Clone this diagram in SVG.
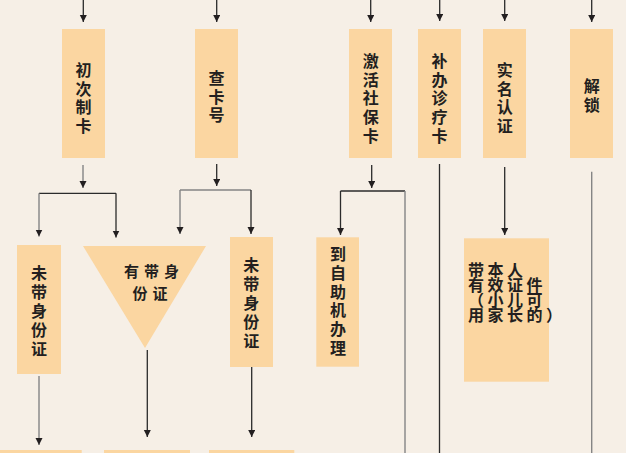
<svg xmlns="http://www.w3.org/2000/svg" width="626" height="453" viewBox="0 0 626 453">
<defs>
<marker id="ah" markerUnits="userSpaceOnUse" markerWidth="8" markerHeight="8" refX="7" refY="3.5" orient="auto">
<path d="M0,0 L7,3.5 L0,7 z" fill="#231f20"/>
</marker>
</defs>
<style>
.box{fill:#fbd6a1}
.t{font-family:"Noto Sans CJK SC","Noto Sans CJK JP",sans-serif;font-size:16px;font-weight:bold;fill:#231f20;text-anchor:middle}
.ts{font-family:"Noto Sans CJK SC","Noto Sans CJK JP",sans-serif;font-size:15px;font-weight:bold;fill:#231f20;letter-spacing:5px}
.tw{font-family:"Noto Sans CJK SC","Noto Sans CJK JP",sans-serif;font-size:16px;font-weight:bold;fill:#231f20;letter-spacing:3.5px}
.d{stroke:#2b2b2b;stroke-width:1.3;fill:none}
.g{stroke:#858585;stroke-width:1.4;fill:none}
.a{marker-end:url(#ah)}
</style>
<rect x="0" y="0" width="626" height="453" fill="#f6efe6"/>
<g id="connectors">
<path class="d a" d="M83.3,0 V22"/>
<path class="d a" d="M216.7,0 V22"/>
<path class="d a" d="M370.7,0 V22"/>
<path class="d a" d="M439.7,0 V21"/>
<path class="d a" d="M504.7,0 V21"/>
<path class="d a" d="M591.7,0 V22"/>
<path class="g a" d="M83,165 V188"/>
<path class="d" d="M39,193.3 H116"/>
<path class="g a" d="M39,193.3 V236.5"/>
<path class="d a" d="M116,193.3 V237.5"/>
<path class="d a" d="M216.7,164 V186"/>
<path class="g" d="M180,190 H251"/>
<path class="g a" d="M180,190 V234"/>
<path class="d a" d="M251,190 V234"/>
<path class="g a" d="M39,376 V445"/>
<path class="d a" d="M147.3,350 V437"/>
<path class="d a" d="M251.7,367 V437"/>
<path class="d a" d="M371.7,165 V188"/>
<path class="d" d="M340.5,191 H405"/>
<path class="d a" d="M340.5,191 V235"/>
<path class="g" d="M405,191 V453"/>
<path class="d" d="M439.5,164 V453"/>
<path class="d a" d="M504.7,167 V235"/>
<path class="g" d="M591.7,171.7 V453"/>
</g>
<g id="n-chuci">
<rect class="box" x="62" y="29" width="43" height="129"/>
<text class="t"><tspan x="83.5" y="76">初</tspan><tspan x="83.5" dy="18.5">次</tspan><tspan x="83.5" dy="18.5">制</tspan><tspan x="83.5" dy="18.5">卡</tspan></text>
</g>
<g id="n-chakahao">
<rect class="box" x="195" y="29" width="43" height="129"/>
<text class="t"><tspan x="216.5" y="84">查</tspan><tspan x="216.5" dy="18.5">卡</tspan><tspan x="216.5" dy="18.5">号</tspan></text>
</g>
<g id="n-jihuo">
<rect class="box" x="349" y="29" width="43" height="129"/>
<text class="t"><tspan x="370.7" y="67">激</tspan><tspan x="370.7" dy="18.7">活</tspan><tspan x="370.7" dy="18.7">社</tspan><tspan x="370.7" dy="18.7">保</tspan><tspan x="370.7" dy="18.7">卡</tspan></text>
</g>
<g id="n-buban">
<rect class="box" x="418" y="29" width="43" height="129"/>
<text class="t"><tspan x="439.5" y="67">补</tspan><tspan x="439.5" dy="18.7">办</tspan><tspan x="439.5" dy="18.7">诊</tspan><tspan x="439.5" dy="18.7">疗</tspan><tspan x="439.5" dy="18.7">卡</tspan></text>
</g>
<g id="n-shiming">
<rect class="box" x="483" y="29" width="43" height="129"/>
<text class="t"><tspan x="504.7" y="76">实</tspan><tspan x="504.7" dy="18.7">名</tspan><tspan x="504.7" dy="18.7">认</tspan><tspan x="504.7" dy="18.7">证</tspan></text>
</g>
<g id="n-jiesuo">
<rect class="box" x="570" y="29" width="43" height="129"/>
<text class="t"><tspan x="591.7" y="92">解</tspan><tspan x="591.7" dy="18.5">锁</tspan></text>
</g>
<g id="n-weidai1">
<rect class="box" x="17" y="245" width="44" height="129"/>
<text class="t"><tspan x="39" y="279">未</tspan><tspan x="39" dy="19">带</tspan><tspan x="39" dy="19">身</tspan><tspan x="39" dy="19">份</tspan><tspan x="39" dy="19">证</tspan></text>
</g>
<g id="n-youdai">
<polygon class="box" points="83,246 206,246 145,348"/>
<text class="ts"><tspan x="124" y="277">有带身</tspan><tspan x="132.5" y="299">份证</tspan></text>
</g>
<g id="n-weidai2">
<rect class="box" x="230" y="237" width="43" height="130"/>
<text class="t"><tspan x="251.3" y="271">未</tspan><tspan x="251.3" dy="18.9">带</tspan><tspan x="251.3" dy="18.9">身</tspan><tspan x="251.3" dy="18.9">份</tspan><tspan x="251.3" dy="18.9">证</tspan></text>
</g>
<g id="n-zizhu">
<rect class="box" x="316.3" y="237.3" width="42.7" height="129.4"/>
<text class="t"><tspan x="338" y="260">到</tspan><tspan x="338" dy="18.8">自</tspan><tspan x="338" dy="18.8">助</tspan><tspan x="338" dy="18.8">机</tspan><tspan x="338" dy="18.8">办</tspan><tspan x="338" dy="18.8">理</tspan></text>
</g>
<g id="n-daiben">
<rect class="box" x="464" y="238.3" width="85" height="143.4"/>
<text class="tw"><tspan x="468" y="276">带本人</tspan><tspan x="468" y="291">有效证件</tspan><tspan x="468" y="306">（小儿可</tspan><tspan x="468" y="321">用家长的）</tspan></text>
</g>
<g id="n-bottom1"><rect class="box" x="0" y="450" width="81.7" height="10"/></g>
<g id="n-bottom2"><rect class="box" x="104" y="450" width="86" height="10"/></g>
<g id="n-bottom3"><rect class="box" x="209" y="450" width="85.3" height="10"/></g>
</svg>
